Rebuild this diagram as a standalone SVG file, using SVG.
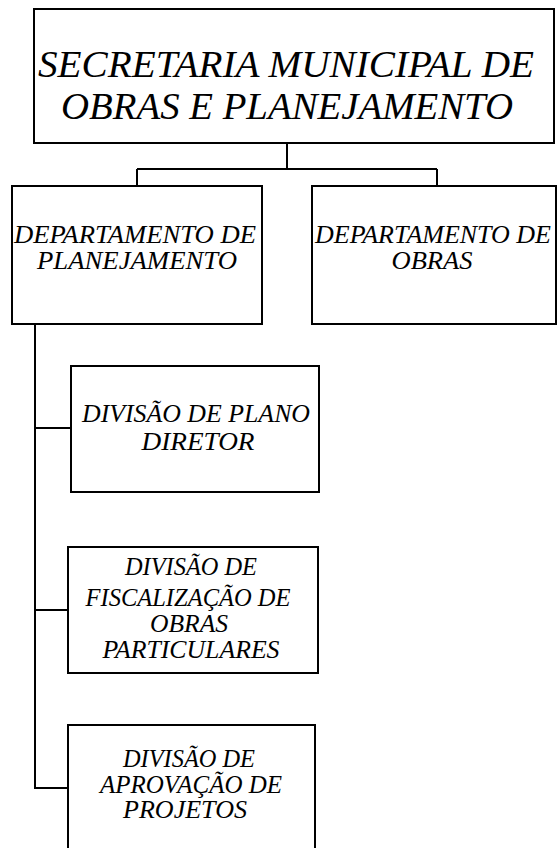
<svg xmlns="http://www.w3.org/2000/svg" width="559" height="848" viewBox="0 0 559 848">
<style>
.box{fill:#fff;stroke:#000;stroke-width:2}
.ln{fill:none;stroke:#000;stroke-width:2}
text{font-family:"Liberation Serif","Times New Roman",serif;font-style:italic;fill:#000;text-anchor:middle}
.t1{font-size:38px}
.t2{font-size:25px}
.t3{font-size:25px}
</style>
<rect width="559" height="848" fill="#fff"/>
<g id="connectors">
<path class="ln" d="M287 143V169M137 169H437M137 169V186M437 169V186"/>
<path class="ln" d="M35 324V788M35 428H71M34 610H68M34 788H68"/>
</g>
<g id="secretaria">
<rect class="box" x="34" y="9" width="520" height="134"/>
<text class="t1" x="286" y="77" textLength="496" lengthAdjust="spacingAndGlyphs">SECRETARIA MUNICIPAL DE</text>
<text class="t1" x="287" y="119" textLength="452" lengthAdjust="spacingAndGlyphs">OBRAS E PLANEJAMENTO</text>
</g>
<g id="dep-planejamento">
<rect class="box" x="12" y="186" width="250" height="138"/>
<text class="t2" x="135" y="243" textLength="242" lengthAdjust="spacingAndGlyphs">DEPARTAMENTO DE</text>
<text class="t2" x="137" y="269" textLength="200" lengthAdjust="spacingAndGlyphs">PLANEJAMENTO</text>
</g>
<g id="dep-obras">
<rect class="box" x="312" y="186" width="244" height="138"/>
<text class="t2" x="433" y="243" textLength="236" lengthAdjust="spacingAndGlyphs">DEPARTAMENTO DE</text>
<text class="t2" x="432" y="269" textLength="81" lengthAdjust="spacingAndGlyphs">OBRAS</text>
</g>
<g id="div-plano">
<rect class="box" x="71" y="366" width="248" height="126"/>
<text class="t3" x="196" y="422" textLength="228" lengthAdjust="spacingAndGlyphs">DIVISÃO DE PLANO</text>
<text class="t3" x="198" y="450" textLength="113" lengthAdjust="spacingAndGlyphs">DIRETOR</text>
</g>
<g id="div-fiscalizacao">
<rect class="box" x="68" y="547" width="250" height="126"/>
<text class="t3" x="191" y="575" textLength="132" lengthAdjust="spacingAndGlyphs">DIVISÃO DE</text>
<text class="t3" x="188" y="606" textLength="205" lengthAdjust="spacingAndGlyphs">FISCALIZAÇÃO DE</text>
<text class="t3" x="189" y="632" textLength="78" lengthAdjust="spacingAndGlyphs">OBRAS</text>
<text class="t3" x="191" y="658" textLength="177" lengthAdjust="spacingAndGlyphs">PARTICULARES</text>
</g>
<g id="div-aprovacao">
<rect class="box" x="68" y="725" width="247" height="140"/>
<text class="t3" x="189" y="767" textLength="132" lengthAdjust="spacingAndGlyphs">DIVISÃO DE</text>
<text class="t3" x="191" y="793" textLength="182" lengthAdjust="spacingAndGlyphs">APROVAÇÃO DE</text>
<text class="t3" x="185" y="818" textLength="124" lengthAdjust="spacingAndGlyphs">PROJETOS</text>
</g>
</svg>
